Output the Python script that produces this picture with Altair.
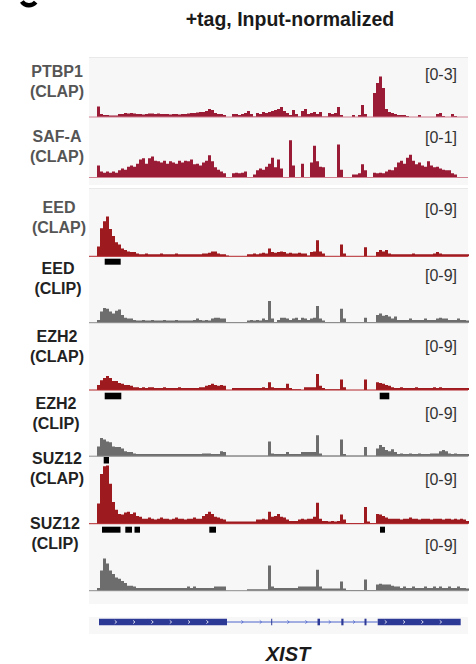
import altair as alt
import pandas as pd

FONT = "Liberation Sans"

TITLE = "+tag, Input-normalized"
GENE_NAME = "XIST"

# genomic window (bp, relative to window start) and signal bin grid
WINDOW = [0, 37900]
BIN_START = 800
BIN_SIZE = 300

TRACK_LABELS = ["PTBP1\n(CLAP)", "SAF-A\n(CLAP)", "EED\n(CLAP)", "EED\n(CLIP)",
                "EZH2\n(CLAP)", "EZH2\n(CLIP)", "SUZ12\n(CLAP)", "SUZ12\n(CLIP)"]
RANGE_MAX = [3, 1, 9, 9, 9, 9, 9, 9]
RANGE_LABELS = ["[0-3]", "[0-1]", "[0-9]", "[0-9]", "[0-9]", "[0-9]", "[0-9]", "[0-9]"]

ptbp1_clap = [0.53, 0.15, 0.10, 0.10, 0.08, 0.08, 0.08, 0.15, 0.15, 0.20,
              0.18, 0.20, 0.18, 0.15, 0.15, 0.13, 0.15, 0.18, 0.18, 0.15,
              0.18, 0.15, 0.15, 0.15, 0.13, 0.15, 0.15, 0.13, 0.15, 0.15,
              0.18, 0.20, 0.20, 0.23, 0.25, 0.25, 0.30, 0.40, 0.35, 0.20,
              0.15, 0.15, 0.10, 0.00, 0.00, 0.15, 0.15, 0.10, 0.15, 0.20,
              0.30, 0.15, 0.03, 0.20, 0.15, 0.25, 0.20, 0.25, 0.30, 0.35,
              0.40, 0.50, 0.30, 0.20, 0.10, 0.35, 0.15, 0.03, 0.30, 0.40,
              0.15, 0.20, 0.25, 0.15, 0.25, 0.03, 0.03, 0.20, 0.15, 0.20,
              0.50, 0.10, 0.00, 0.00, 0.00, 0.10, 0.00, 0.10, 0.60, 0.15,
              0.00, 0.00, 1.20, 1.70, 2.03, 1.45, 0.40, 0.25, 0.20, 0.15,
              0.10, 0.10, 0.10, 0.05, 0.00, 0.00, 0.00, 0.10, 0.00, 0.00,
              0.00, 0.00, 0.00, 0.15, 0.20, 0.05, 0.00, 0.00, 0.15, 0.05,
              0.00, 0.00, 0.00, 0.00]

safa_clap = [0.20, 0.10, 0.08, 0.10, 0.08, 0.10, 0.08, 0.12, 0.15, 0.13,
             0.18, 0.20, 0.18, 0.23, 0.30, 0.32, 0.23, 0.32, 0.35, 0.28,
             0.27, 0.25, 0.28, 0.23, 0.27, 0.25, 0.23, 0.28, 0.25, 0.28,
             0.27, 0.30, 0.22, 0.23, 0.20, 0.25, 0.28, 0.37, 0.27, 0.17,
             0.13, 0.10, 0.07, 0.00, 0.00, 0.07, 0.08, 0.07, 0.08, 0.10,
             0.00, 0.00, 0.05, 0.12, 0.15, 0.13, 0.18, 0.23, 0.33, 0.17,
             0.30, 0.15, 0.00, 0.00, 0.62, 0.20, 0.00, 0.00, 0.23, 0.00,
             0.00, 0.25, 0.53, 0.27, 0.18, 0.17, 0.00, 0.00, 0.00, 0.00,
             0.55, 0.13, 0.00, 0.00, 0.00, 0.05, 0.05, 0.07, 0.22, 0.12,
             0.00, 0.00, 0.08, 0.07, 0.08, 0.07, 0.10, 0.13, 0.12, 0.17,
             0.25, 0.28, 0.23, 0.33, 0.38, 0.28, 0.22, 0.25, 0.20, 0.18,
             0.27, 0.20, 0.17, 0.18, 0.15, 0.13, 0.12, 0.12, 0.07, 0.05,
             0.00, 0.00, 0.00, 0.00]

eed_clap = [1.4, 4.0, 5.0, 5.7, 3.9, 2.9, 2.0, 1.7, 1.1, 0.9,
            0.7, 0.6, 0.6, 0.4, 0.3, 0.3, 0.4, 0.3, 0.3, 0.3,
            0.3, 0.4, 0.3, 0.3, 0.3, 0.3, 0.4, 0.3, 0.3, 0.3,
            0.3, 0.3, 0.3, 0.3, 0.3, 0.4, 0.4, 0.5, 0.7, 0.7,
            0.4, 0.3, 0.3, 0.1, 0.0, 0.0, 0.0, 0.0, 0.0, 0.0,
            0.3, 0.3, 0.4, 0.3, 0.4, 0.5, 0.4, 1.1, 0.6, 0.5,
            0.6, 0.7, 0.6, 0.4, 0.5, 0.4, 0.4, 0.5, 0.4, 0.4,
            0.1, 0.6, 0.7, 2.3, 0.7, 0.4, 0.0, 0.0, 0.0, 0.0,
            0.0, 1.7, 0.4, 0.0, 0.0, 0.0, 0.0, 0.0, 0.0, 1.3,
            0.0, 0.0, 0.0, 0.6, 0.9, 0.7, 0.9, 0.4, 0.3, 0.3,
            0.3, 0.3, 0.3, 0.3, 0.3, 0.4, 0.3, 0.3, 0.3, 0.3,
            0.3, 0.3, 0.4, 0.6, 0.4, 0.3, 0.3, 0.3, 0.3, 0.3,
            0.3, 0.3, 0.3, 0.3]

eed_clip = [0.4, 1.6, 2.1, 2.0, 1.6, 1.3, 1.7, 1.9, 1.1, 0.7,
            0.6, 0.6, 0.4, 0.3, 0.3, 0.4, 0.3, 0.3, 0.4, 0.3,
            0.3, 0.3, 0.4, 0.3, 0.3, 0.3, 0.4, 0.3, 0.3, 0.3,
            0.3, 0.3, 0.4, 0.6, 0.4, 0.3, 0.4, 0.3, 0.6, 0.7,
            0.7, 0.6, 0.6, 0.1, 0.1, 0.1, 0.1, 0.1, 0.1, 0.1,
            0.3, 0.4, 0.3, 0.4, 0.3, 0.6, 0.4, 3.1, 0.6, 0.1,
            0.4, 0.7, 0.7, 0.6, 0.4, 0.6, 0.7, 0.4, 0.7, 0.6,
            0.4, 0.6, 0.7, 2.4, 0.6, 0.3, 0.1, 0.1, 0.1, 0.1,
            0.1, 2.0, 0.6, 0.1, 0.1, 0.1, 0.1, 0.1, 0.1, 0.7,
            0.1, 0.1, 0.1, 1.1, 1.3, 1.0, 1.1, 0.9, 0.6, 0.9,
            0.4, 0.4, 0.4, 0.4, 0.6, 0.4, 0.4, 0.4, 0.4, 0.6,
            0.4, 0.4, 0.4, 0.6, 0.7, 0.6, 0.6, 0.4, 0.4, 0.4,
            0.6, 0.4, 0.4, 0.3]

ezh2_clap = [0.7, 1.4, 1.7, 2.0, 1.7, 1.3, 1.3, 1.0, 0.9, 0.7,
             0.7, 0.6, 0.4, 0.4, 0.3, 0.4, 0.3, 0.4, 0.4, 0.3,
             0.3, 0.3, 0.4, 0.3, 0.3, 0.3, 0.3, 0.4, 0.3, 0.3,
             0.3, 0.3, 0.3, 0.3, 0.4, 0.4, 0.6, 0.7, 0.9, 0.7,
             0.6, 0.7, 0.6, 0.0, 0.0, 0.3, 0.3, 0.3, 0.3, 0.3,
             0.3, 0.3, 0.3, 0.3, 0.3, 0.4, 0.3, 1.1, 0.4, 0.3,
             0.3, 0.3, 0.3, 0.9, 0.3, 0.1, 0.1, 0.1, 0.0, 0.4,
             0.4, 0.4, 0.4, 2.3, 0.6, 0.3, 0.1, 0.1, 0.1, 0.1,
             0.1, 1.5, 0.4, 0.0, 0.0, 0.0, 0.0, 0.0, 0.0, 1.5,
             0.0, 0.0, 0.0, 1.1, 1.0, 0.9, 0.7, 0.6, 0.4, 0.3,
             0.3, 0.4, 0.3, 0.3, 0.3, 0.3, 0.4, 0.3, 0.3, 0.3,
             0.3, 0.3, 0.4, 0.3, 0.4, 0.3, 0.3, 0.3, 0.3, 0.3,
             0.3, 0.3, 0.3, 0.3]

ezh2_clip = [1.4, 2.6, 2.4, 2.1, 2.0, 1.4, 1.3, 1.3, 1.1, 0.7,
             0.6, 0.6, 0.4, 0.3, 0.3, 0.3, 0.3, 0.3, 0.3, 0.3,
             0.3, 0.3, 0.3, 0.3, 0.3, 0.3, 0.3, 0.3, 0.3, 0.3,
             0.3, 0.3, 0.3, 0.3, 0.3, 0.4, 0.4, 0.4, 0.3, 0.3,
             0.3, 0.7, 0.6, 0.1, 0.1, 0.1, 0.1, 0.1, 0.1, 0.1,
             0.1, 0.1, 0.1, 0.1, 0.1, 0.1, 0.1, 2.1, 0.4, 0.3,
             0.3, 0.3, 0.3, 0.6, 0.3, 0.3, 0.3, 0.3, 0.6, 0.6,
             0.6, 0.6, 0.6, 3.0, 0.4, 0.1, 0.1, 0.1, 0.1, 0.1,
             0.1, 2.4, 0.3, 0.1, 0.1, 0.1, 0.1, 0.1, 0.1, 1.3,
             0.1, 0.1, 0.1, 1.1, 1.6, 1.3, 0.9, 0.7, 1.0, 0.6,
             0.3, 0.4, 0.3, 0.3, 0.4, 0.3, 0.3, 0.4, 0.3, 0.3,
             0.3, 0.4, 0.4, 0.4, 0.7, 0.9, 0.7, 0.4, 0.3, 0.4,
             0.3, 0.3, 0.3, 0.3]

suz12_clap = [2.9, 7.1, 8.2, 8.3, 5.7, 3.1, 2.0, 1.4, 1.3, 1.6,
              1.7, 1.4, 1.6, 1.1, 1.0, 0.7, 0.7, 0.9, 0.7, 0.6,
              0.7, 0.9, 0.7, 0.7, 0.6, 0.7, 0.9, 0.7, 0.7, 0.6,
              0.7, 0.7, 0.9, 0.7, 0.7, 1.1, 1.4, 1.7, 1.4, 1.0,
              0.9, 0.7, 0.6, 0.3, 0.3, 0.3, 0.3, 0.3, 0.3, 0.3,
              0.3, 0.3, 0.3, 0.6, 0.6, 0.7, 0.6, 1.7, 1.0, 1.1,
              1.4, 1.0, 0.9, 0.6, 0.4, 0.4, 0.4, 0.6, 0.7, 0.6,
              0.7, 0.7, 1.0, 3.0, 0.7, 0.4, 0.4, 0.3, 0.4, 0.3,
              0.4, 1.3, 0.6, 0.1, 0.1, 0.1, 0.1, 0.1, 0.1, 2.4,
              0.3, 0.1, 0.1, 1.4, 1.3, 1.1, 0.9, 0.7, 0.7, 0.7,
              0.7, 0.6, 0.7, 0.7, 0.9, 0.7, 0.7, 0.6, 0.7, 0.7,
              0.7, 0.6, 0.7, 0.7, 0.7, 0.6, 0.7, 0.7, 0.6, 0.7,
              0.6, 0.7, 0.6, 0.4]

suz12_clip = [0.4, 2.9, 4.6, 3.9, 2.9, 2.4, 1.9, 1.7, 1.4, 1.1,
              0.7, 0.7, 0.6, 0.4, 0.4, 0.4, 0.4, 0.4, 0.4, 0.4,
              0.4, 0.4, 0.4, 0.4, 0.4, 0.4, 0.4, 0.4, 0.4, 0.4,
              0.6, 0.4, 0.6, 0.4, 0.4, 0.4, 0.4, 0.4, 0.4, 0.6,
              0.6, 0.6, 0.6, 0.0, 0.0, 0.0, 0.0, 0.0, 0.0, 0.0,
              0.2, 0.2, 0.2, 0.2, 0.2, 0.2, 0.2, 3.6, 0.6, 0.4,
              0.4, 0.4, 0.4, 0.4, 0.4, 0.4, 0.4, 0.6, 0.6, 0.6,
              0.6, 0.6, 0.6, 3.0, 0.6, 0.3, 0.3, 0.3, 0.3, 0.3,
              0.3, 1.3, 0.3, 0.1, 0.1, 0.1, 0.1, 0.1, 0.1, 1.6,
              0.1, 0.1, 0.1, 0.9, 1.0, 0.9, 0.9, 0.9, 0.7, 0.6,
              0.6, 0.4, 0.6, 0.4, 0.4, 0.6, 0.4, 0.4, 0.4, 0.6,
              0.4, 0.4, 0.6, 0.4, 0.6, 0.4, 0.4, 0.6, 0.4, 0.4,
              0.6, 0.4, 0.4, 0.3]

# called peaks (bp)
eed_clap_peak_start = [1570]
eed_clap_peak_end = [3170]
ezh2_clap_peak_start = [1570, 29070]
ezh2_clap_peak_end = [3230, 30030]
ezh2_clip_peak_start = [1470]
ezh2_clip_peak_end = [2000]
suz12_clap_peak_start = [1300, 3630, 4550, 12030, 29100]
suz12_clap_peak_end = [3150, 4300, 5100, 12700, 29600]

# gene model (bp)
exon_start = [1000, 18220, 22850, 25230, 27550, 28870]
exon_end = [13800, 18320, 23100, 25450, 27750, 37170]
intron_start = [13800]
intron_end = [28870]
exon_strand_marks = [2670, 4500, 6330, 8170, 10000, 11830, 29670, 31500, 33330, 35170]
intron_strand_marks = [15330, 17170, 19930, 21730, 24070, 26500]

# ---------------- styling / layout ----------------
PANEL_W = 379
BG = "#f7f7f7"
RED_A = "#9a1b36"
RED_B = "#9d1a1f"
GREY = "#6d6d6d"
LINE_A = "#d07f8f"
LINE_B = "#b3272b"
LINE_G = "#8d8d8d"
EXON = "#2c3a96"
INTRON = "#4d64cc"
CHEVRON = "M-0.6,-1L0.6,0L-0.6,1"


def xq(field):
    return alt.X(field, type="quantitative",
                 scale=alt.Scale(domain=WINDOW, nice=False, zero=False), axis=None)


def spacer(h):
    return alt.Chart(pd.DataFrame({"a": [0]})).mark_rule(opacity=0).encode(
        x=alt.value(1), x2=alt.value(2), y=alt.value(1)
    ).properties(width=PANEL_W, height=h, view=alt.ViewBackground(strokeWidth=0))


def track(values, vmax, data_px, height, base, fill, line, range_label, range_y,
          peak_start=None, peak_end=None, peak_y=None, top_line=False):
    pos = [BIN_START + BIN_SIZE * i for i in range(len(values) + 1)]
    df = pd.DataFrame({"pos": pos, "value": values + [values[-1]]})
    yscale = alt.Scale(domain=[0, vmax], range=[base, base - data_px], nice=False, zero=True)
    layers = []
    area = alt.Chart(df).mark_area(interpolate="step-after", color=fill, opacity=1).encode(
        x=xq("pos"), y=alt.Y("value:Q", scale=yscale, axis=None))
    layers.append(area)
    one = pd.DataFrame({"label": [range_label]})
    layers.append(alt.Chart(one).mark_rule(color=line, strokeWidth=1).encode(
        x=alt.value(0), x2=alt.value(PANEL_W), y=alt.datum(0)))
    if top_line:
        layers.append(alt.Chart(one).mark_rule(color="#e9e9e9", strokeWidth=1).encode(
            x=alt.value(0), x2=alt.value(PANEL_W), y=alt.value(0.5)))
    layers.append(alt.Chart(one).mark_text(
        align="right", baseline="alphabetic", font=FONT, fontSize=16, color="#333333"
    ).encode(x=alt.value(368), y=alt.value(range_y), text="label:N"))
    if peak_start:
        pk = pd.DataFrame({"start": peak_start, "end": peak_end})
        layers.append(alt.Chart(pk).mark_rect(color="black").encode(
            x=xq("start"), x2="end:Q", y=alt.value(peak_y[0]), y2=alt.value(peak_y[1])))
    return alt.layer(*layers).properties(
        width=PANEL_W, height=height, view=alt.ViewBackground(fill=BG, strokeWidth=0))


header = alt.Chart(pd.DataFrame({"t": [TITLE]})).mark_text(
    align="center", baseline="alphabetic", font=FONT, fontSize=19.5, fontWeight="bold", color="#1a1a1a"
).encode(x=alt.value(201), y=alt.value(26), text="t:N").properties(
    width=PANEL_W, height=57, view=alt.ViewBackground(strokeWidth=0))

t_ptbp1 = track(ptbp1_clap, RANGE_MAX[0], 60, 63, 60.0, RED_A, LINE_A, RANGE_LABELS[0], 23, top_line=True)
t_safa = track(safa_clap, RANGE_MAX[1], 60, 65, 57.5, RED_A, LINE_A, RANGE_LABELS[1], 23.3)
t_eed_clap = track(eed_clap, RANGE_MAX[2], 63, 79, 68.3, RED_B, LINE_B, RANGE_LABELS[2], 27.3,
                   eed_clap_peak_start, eed_clap_peak_end, (70.7, 76.7), top_line=True)
t_eed_clip = track(eed_clip, RANGE_MAX[3], 63, 59, 55.7, GREY, LINE_G, RANGE_LABELS[3], 14)
t_ezh2_clap = track(ezh2_clap, RANGE_MAX[4], 63, 75, 64.0, RED_B, LINE_B, RANGE_LABELS[4], 26,
                    ezh2_clap_peak_start, ezh2_clap_peak_end, (66.7, 73.3))
t_ezh2_clip = track(ezh2_clip, RANGE_MAX[5], 63, 64, 55.2, GREY, LINE_G, RANGE_LABELS[5], 17.6,
                    ezh2_clip_peak_start, ezh2_clip_peak_end, (56.0, 62.5))
t_suz12_clap = track(suz12_clap, RANGE_MAX[6], 63, 69, 58.7, RED_B, LINE_B, RANGE_LABELS[6], 19.6,
                     suz12_clap_peak_start, suz12_clap_peak_end, (61.7, 67.7))
t_suz12_clip = track(suz12_clip, RANGE_MAX[7], 63, 70, 56.7, GREY, LINE_G, RANGE_LABELS[7], 17.3)

# gene model track
exons = pd.DataFrame({"start": exon_start, "end": exon_end})
introns = pd.DataFrame({"start": intron_start, "end": intron_end})
ex_marks = pd.DataFrame({"pos": exon_strand_marks})
in_marks = pd.DataFrame({"pos": intron_strand_marks})
gene = alt.layer(
    alt.Chart(introns).mark_rule(color=INTRON, strokeWidth=1).encode(
        x=xq("start"), x2="end:Q", y=alt.value(5)),
    alt.Chart(exons).mark_rect(color=EXON).encode(
        x=xq("start"), x2="end:Q", y=alt.value(1.7), y2=alt.value(8.3)),
    alt.Chart(ex_marks).mark_point(shape=CHEVRON, filled=False, color="white", size=10, strokeWidth=0.8, opacity=1).encode(
        x=xq("pos"), y=alt.value(5)),
    alt.Chart(in_marks).mark_point(shape=CHEVRON, filled=False, color=INTRON, size=10, strokeWidth=0.8, opacity=1).encode(
        x=xq("pos"), y=alt.value(5)),
    alt.Chart(pd.DataFrame({"g": [GENE_NAME]})).mark_text(
        align="center", baseline="alphabetic", font=FONT, fontSize=20, fontWeight="bold",
        fontStyle="italic", color="#1a1a1a"
    ).encode(x=alt.value(199), y=alt.value(44), text="g:N"),
).properties(width=PANEL_W, height=17, view=alt.ViewBackground(fill=BG, strokeWidth=0))

tracks_col = alt.vconcat(
    header, t_ptbp1, t_safa, spacer(3), t_eed_clap, t_eed_clip, t_ezh2_clap,
    t_ezh2_clip, t_suz12_clap, t_suz12_clip, spacer(13), gene, spacing=0)

# left-hand track labels
label_x = [57, 57, 59, 58, 57, 56, 57, 55]
label_y = [76.7, 141.7, 213.3, 274.3, 342.3, 409.0, 464.0, 529.0]
label_color = ["#555555", "#555555", "#555555", "#222222", "#222222", "#222222", "#222222", "#222222"]
lab_df = pd.DataFrame({"label": TRACK_LABELS, "x": label_x, "y": label_y, "c": label_color})
labels = alt.layer(
    alt.Chart(lab_df).mark_text(
        align="center", baseline="alphabetic", font=FONT, fontSize=16, fontWeight="bold",
        lineBreak="\n", lineHeight=20
    ).encode(x=alt.X("x:Q", scale=None, axis=None), y=alt.Y("y:Q", scale=None, axis=None),
             text="label:N", color=alt.Color("c:N", scale=None, legend=None)),
    alt.Chart(pd.DataFrame({"a": [0]})).mark_arc(
        radius=11, radius2=6.5, theta=2.27, theta2=4.1, color="black"
    ).encode(x=alt.value(29), y=alt.value(-3.5)),
).properties(width=88, height=634, view=alt.ViewBackground(strokeWidth=0))

chart = alt.hconcat(labels, tracks_col, spacing=0, padding=0).configure(background="white")

chart.save("out.html", embed_options={"renderer": "svg", "actions": False})
